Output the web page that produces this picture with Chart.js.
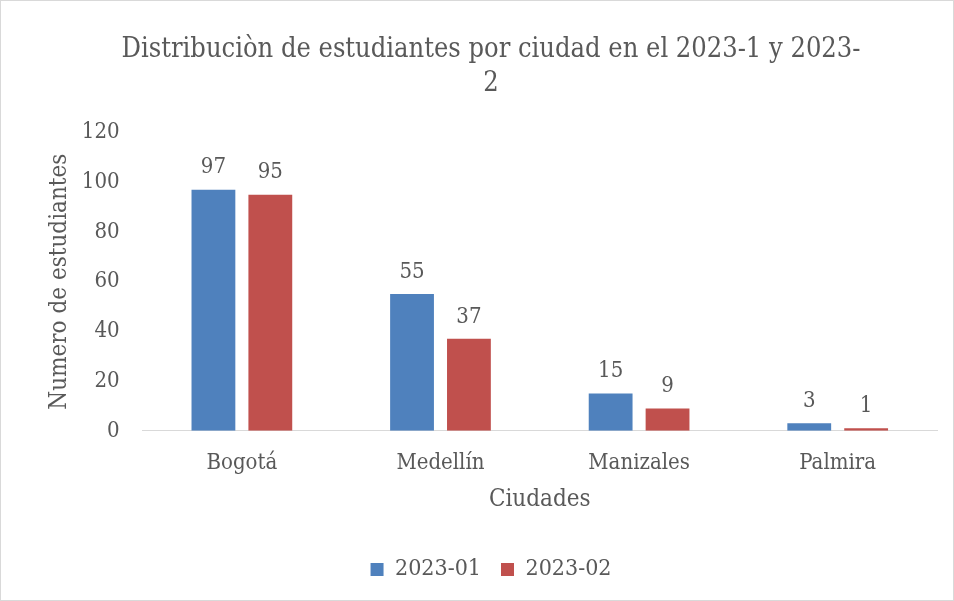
<!DOCTYPE html>
<html>
<head>
<meta charset="utf-8">
<script src="https://cdn.jsdelivr.net/npm/chart.js@4/dist/chart.umd.min.js"></script>
<style>
    html, body { margin: 0; padding: 0; background: #fff; }
    #wrap {
        position: relative;
        width: 952px;
        height: 599px;
        border: 1px solid #d9d9d9;
    }
</style>
</head>
<body>
<div id="wrap"><canvas id="chart"></canvas></div>
<script>
const ciudades = ['Bogotá', 'Medellín', 'Manizales', 'Palmira'];
const periodos = ['2023-01', '2023-02'];
const estudiantes2023_1 = [97, 55, 15, 3];
const estudiantes2023_2 = [95, 37, 9, 1];
const yTicks = [0, 20, 40, 60, 80, 100, 120];

const FONT = "'DejaVu Serif Condensed', 'DejaVu Serif', serif";
const GRAY = '#595959';

// draws the value above each bar (no datalabels plugin available offline)
const valueLabels = {
    id: 'valueLabels',
    afterDatasetsDraw(chart) {
        const ctx = chart.ctx;
        ctx.save();
        ctx.font = '22px ' + FONT;
        ctx.fillStyle = GRAY;
        ctx.textAlign = 'center';
        ctx.textBaseline = 'bottom';
        chart.data.datasets.forEach((ds, i) => {
            chart.getDatasetMeta(i).data.forEach((bar, j) => {
                ctx.fillText(ds.data[j], bar.x, bar.y - 11);
            });
        });
        ctx.restore();
    }
};

const ctx = document.getElementById('chart').getContext('2d');
new Chart(ctx, {
    type: 'bar',
    data: {
        labels: ciudades,
        datasets: [
            {
                label: periodos[0],
                data: estudiantes2023_1,
                backgroundColor: '#4F81BD',
                barPercentage: 0.77,
                categoryPercentage: 0.573
            },
            {
                label: periodos[1],
                data: estudiantes2023_2,
                backgroundColor: '#C0504D',
                barPercentage: 0.77,
                categoryPercentage: 0.573
            }
        ]
    },
    options: {
        responsive: true,
        maintainAspectRatio: false,
        animation: false,
        layout: {
            padding: { left: 44, right: 16, top: 10, bottom: 9 }
        },
        plugins: {
            title: {
                display: true,
                text: ['Distribuciòn de estudiantes por ciudad en el 2023-1 y 2023-', '2'],
                color: GRAY,
                font: { family: FONT, size: 27, weight: 'normal', lineHeight: 1.27 },
                padding: { top: 22, bottom: 31 }
            },
            legend: {
                position: 'bottom',
                labels: {
                    color: GRAY,
                    font: { family: FONT, size: 23 },
                    boxWidth: 13,
                    boxHeight: 13,
                    padding: 20
                }
            },
            tooltip: { enabled: false }
        },
        scales: {
            x: {
                grid: { display: false, drawTicks: false },
                border: { display: true, color: '#d9d9d9', width: 1 },
                ticks: {
                    color: GRAY,
                    font: { family: FONT, size: 22 },
                    padding: 19
                },
                title: {
                    display: true,
                    text: 'Ciudades',
                    color: GRAY,
                    font: { family: FONT, size: 24 },
                    padding: { top: -10, bottom: 24 }
                }
            },
            y: {
                min: 0,
                max: 120,
                afterBuildTicks(scale) {
                    scale.ticks = yTicks.map(v => ({ value: v }));
                },
                grid: { display: false, drawTicks: false },
                border: { display: false },
                ticks: {
                    color: GRAY,
                    font: { family: FONT, size: 22 },
                    padding: 23
                },
                title: {
                    display: true,
                    text: 'Numero de estudiantes',
                    color: GRAY,
                    font: { family: FONT, size: 24 },
                    padding: { top: 0, bottom: -15 }
                }
            }
        }
    },
    plugins: [valueLabels]
});
</script>
</body>
</html>
